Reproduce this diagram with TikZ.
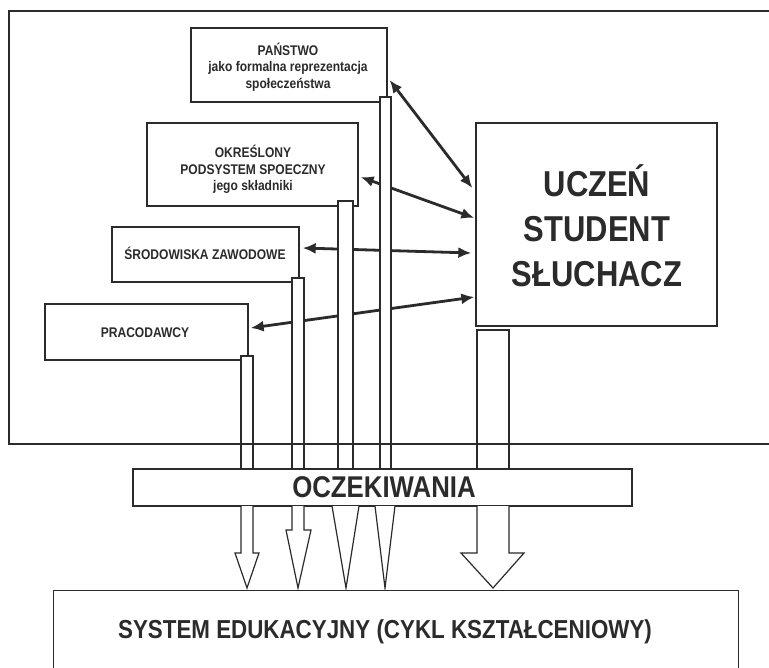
\documentclass[tikz,border=0pt]{standalone}
\usepackage{fontspec}
\setmainfont{Liberation Sans}
\newfontfamily\cond[FakeStretch=0.86]{Liberation Sans}
\usetikzlibrary{arrows.meta,calc}
\definecolor{ink}{HTML}{2B2B2B}
\begin{document}
\begin{tikzpicture}[x=1pt,y=-1pt,line join=miter]
\tikzset{
  box/.style={draw=ink,line width=1.3pt,fill=white,rectangle,inner sep=0pt},
  smalltxt/.style={font=\cond\bfseries\fontsize{14}{16.5}\selectfont,align=center,text=ink,inner sep=0pt},
  bigtxt/.style={font=\cond\bfseries\fontsize{36}{45}\selectfont,align=center,text=ink,inner sep=0pt},
  midtxt/.style={font=\cond\bfseries\fontsize{30}{34}\selectfont,text=ink,inner sep=0pt},
  systxt/.style={font=\cond\bfseries\fontsize{26}{30}\selectfont,text=ink,inner sep=0pt},
  bararrow/.style={draw=ink,line width=1.2pt,fill=white},
  link/.style={draw=ink,line width=2.8pt,{Latex[length=13pt,width=11pt]}-{Latex[length=13pt,width=11pt]}},
  frame/.style={draw=ink,line width=2pt}
}
\clip (0,0) rectangle (769,668);
\fill[white] (0,0) rectangle (769,668);

% boxes
\node[box,minimum width=196pt,minimum height=74pt] (panstwo) at (289,65) {};
\node[smalltxt] (panstwot) at (288,67) {PAŃSTWO\\jako formalna reprezentacja\\społeczeństwa};
\node[box,minimum width=211pt,minimum height=83pt] (okr) at (252.5,164.5) {};
\node[smalltxt] (okrt) at (253,169.5) {OKREŚLONY\\PODSYSTEM SPOECZNY\\jego składniki};
\node[box,minimum width=187pt,minimum height=55pt] (srod) at (205.5,254.5) {};
\node[smalltxt] (srodt) at (205,253) {ŚRODOWISKA ZAWODOWE};
\node[box,minimum width=203pt,minimum height=56pt] (praco) at (146.5,332) {};
\node[smalltxt] (pracot) at (145,333) {PRACODAWCY};
\node[box,minimum width=241pt,minimum height=203pt] (uczen) at (596.5,224.5) {};
\node[bigtxt] (uczent) at (597,226) {UCZEŃ\\STUDENT\\SŁUCHACZ};

% two-headed connectors
\draw[link] ([shift={(2,15)}]panstwo.east) -- ([shift={(-3,-36.5)}]uczen.west);
\draw[link] ([shift={(2,12.5)}]okr.east) -- ([shift={(-1,-6.5)}]uczen.west);
\draw[link] ([shift={(3,-6.5)}]srod.east) -- ([shift={(-4,28.5)}]uczen.west);
\draw[link] ([shift={(2,-4)}]praco.east) -- ([shift={(-1,72.5)}]uczen.west);

% bars going down to OCZEKIWANIA
\draw[bararrow] (380,97) rectangle (391,469);
\draw[bararrow] (338,201) rectangle (353,469);
\draw[bararrow] (292,278) rectangle (304,469);
\draw[bararrow] (241,356) rectangle (253,469);
\draw[bararrow] (477,330) rectangle (509,469);

% outer frame
\draw[frame] (9,11) rectangle (800,444);

% OCZEKIWANIA
\node[box,minimum width=499pt,minimum height=37pt] (ocz) at (382.5,487.5) {};
\node[midtxt] (ozct) at (384,487.5) {OCZEKIWANIA};

% lower arrows
\draw[bararrow] (241,506) -- (241,553) -- (235,553) -- (247,588) -- (259,553) -- (253,553) -- (253,506);
\draw[bararrow] (292,506) -- (292,530) -- (286,530) -- (298,588) -- (311,530) -- (304,530) -- (304,506);
\draw[bararrow] (332,506) -- (346,588) -- (359,506);
\draw[bararrow] (375,506) -- (385,588) -- (395,506);
\draw[bararrow] (477,506) -- (477,553) -- (461,553) -- (493,588) -- (524,553) -- (509,553) -- (509,506);

% system box
\node[box,minimum width=685pt,minimum height=120pt,anchor=north west] (system) at (53,590) {};
\node[systxt] (systemt) at (385,632) {SYSTEM EDUKACYJNY (CYKL KSZTAŁCENIOWY)};
\end{tikzpicture}
\end{document}
